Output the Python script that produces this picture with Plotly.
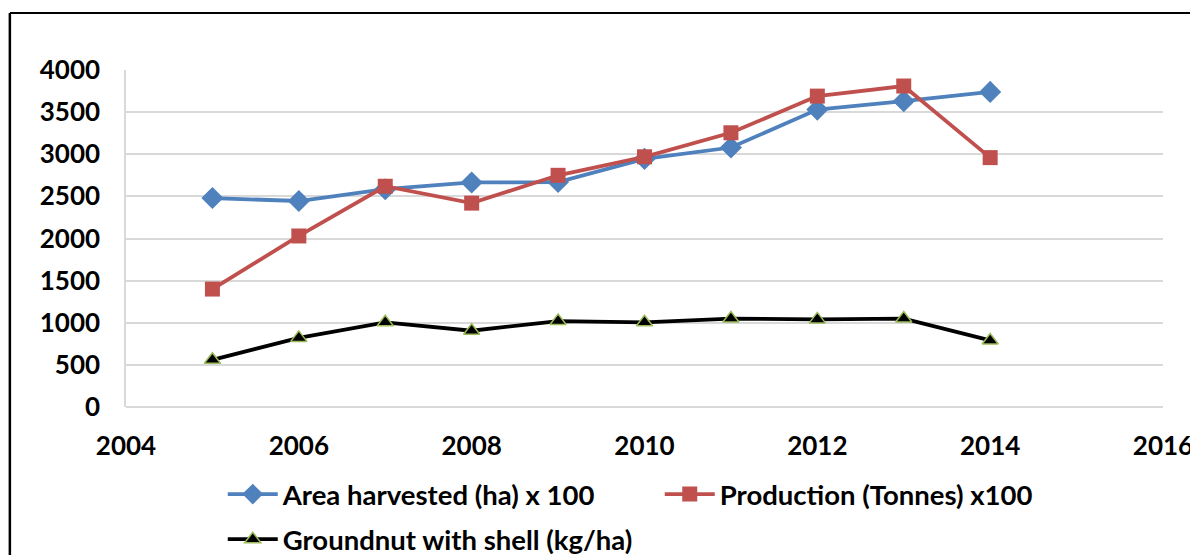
import plotly.graph_objects as go

years = [2005, 2006, 2007, 2008, 2009, 2010, 2011, 2012, 2013, 2014]
area_harvested = [2480, 2445, 2585, 2665, 2670, 2945, 3080, 3530, 3630, 3740]
production = [1400, 2030, 2620, 2420, 2750, 2970, 3255, 3690, 3810, 2960]
groundnut_yield = [560, 820, 1005, 905, 1020, 1005, 1050, 1040, 1050, 790]

names = ["Area harvested (ha) x 100", "Production (Tonnes) x100", "Groundnut with shell (kg/ha)"]

FONT = "Lato, 'Open Sans', sans-serif"
FS = 26
LFS = 27.5

fig = go.Figure()
fig.add_trace(go.Scatter(
    x=years, y=area_harvested, name=names[0], mode="lines+markers", legend="legend",
    line=dict(color="#4f81bd", width=3.8),
    marker=dict(symbol="diamond", size=17, color="#4f81bd"),
))
fig.add_trace(go.Scatter(
    x=years, y=production, name=names[1], mode="lines+markers", legend="legend",
    line=dict(color="#c0504d", width=3.8),
    marker=dict(symbol="square", size=15, color="#c0504d"),
))
fig.add_trace(go.Scatter(
    x=years, y=groundnut_yield, name=names[2], mode="lines+markers", legend="legend2",
    line=dict(color="#000000", width=3.8),
    marker=dict(symbol="triangle-up", size=14, color="#000000",
                line=dict(color="#9bbb59", width=1.5)),
))

# chart border (left & top visible)
fig.add_shape(type="line", xref="paper", yref="paper", x0=-0.112, y0=1.169, x1=1.2, y1=1.169,
              line=dict(color="black", width=2))
fig.add_shape(type="line", xref="paper", yref="paper", x0=-0.112, y0=1.169, x1=-0.112, y1=-0.6,
              line=dict(color="black", width=2.5))

legfont = dict(family=FONT, size=LFS, color="black", weight="bold")
fig.update_layout(
    width=1190, height=547,
    margin=dict(l=118, r=35, t=62, b=148, autoexpand=False),
    paper_bgcolor="white", plot_bgcolor="white",
    font=dict(family=FONT, size=FS, color="black"),
    showlegend=True,
    legend=dict(orientation="h", x=0.0933, y=-0.186, xanchor="left", yanchor="top",
                entrywidth=372, font=legfont, itemwidth=50, bgcolor="rgba(0,0,0,0)"),
    legend2=dict(orientation="h", x=0.0933, y=-0.32, xanchor="left", yanchor="top",
                 font=legfont, itemwidth=50, bgcolor="rgba(0,0,0,0)"),
)
fig.update_xaxes(range=[2004, 2016], dtick=2, tick0=2004, showgrid=False, zeroline=False,
                 showline=False, ticks="outside", ticklen=16, tickcolor="rgba(0,0,0,0)",
                 automargin=False,
                 tickfont=dict(family=FONT, size=FS, color="black", weight="bold"))
fig.update_yaxes(range=[0, 4000], dtick=500, showgrid=True, gridcolor="#d9d9d9", gridwidth=1.5,
                 zeroline=True, zerolinecolor="#d9d9d9", zerolinewidth=1.5,
                 showline=True, linecolor="#d9d9d9", linewidth=1.5,
                 ticks="outside", ticklen=19, tickcolor="rgba(0,0,0,0)",
                 automargin=False,
                 tickfont=dict(family=FONT, size=FS, color="black", weight="bold"))

fig.write_html("out.html")
